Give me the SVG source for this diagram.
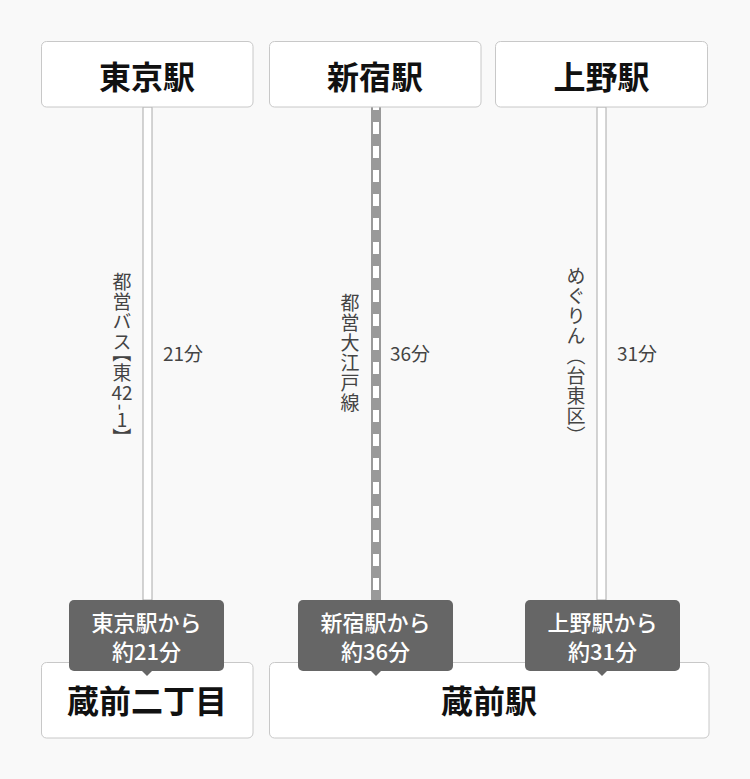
<svg xmlns="http://www.w3.org/2000/svg" width="750" height="779" viewBox="0 0 750 779">
<style>
.box{fill:#fff;stroke:#c8c8c8;stroke-width:1}
.name{font-family:"Noto Sans CJK JP","Noto Sans",sans-serif;font-size:32px;font-weight:700;fill:#111;text-anchor:middle}
.tip{fill:#666}
.tiptx{font-family:"Noto Sans CJK JP","Noto Sans",sans-serif;font-size:22px;font-weight:500;fill:#fff;text-anchor:middle}
.time{font-family:"Noto Sans CJK JP","Noto Sans",sans-serif;font-size:19px;fill:#444}
.vt{font-family:"Noto Sans CJK JP","Noto Sans",sans-serif;font-size:19px;fill:#444;writing-mode:vertical-rl;text-orientation:mixed;letter-spacing:1px}
.ht{font-family:"Noto Sans CJK JP","Noto Sans",sans-serif;font-size:19px;fill:#444;text-anchor:middle}
.dbl{fill:#fff;stroke:#aaa;stroke-width:1}
</style>
<rect width="750" height="779" fill="#f9f9f9"/>
<g id="connectors">
  <rect class="dbl" x="143" y="107" width="9" height="493"/>
  <rect x="371" y="107" width="10" height="493" fill="#999"/>
  <line x1="376" y1="107" x2="376" y2="600" stroke="#fff" stroke-width="6" stroke-dasharray="12 12" stroke-dashoffset="9"/>
  <rect class="dbl" x="597" y="107" width="9" height="493"/>
</g>
<g id="tokyo">
  <rect class="box" x="41.5" y="41.5" width="211.5" height="65.5" rx="5"/>
  <text class="name" x="147" y="89">東京駅</text>
</g>
<g id="shinjuku">
  <rect class="box" x="269.5" y="41.5" width="211.5" height="65.5" rx="5"/>
  <text class="name" x="375" y="89">新宿駅</text>
</g>
<g id="ueno">
  <rect class="box" x="495.5" y="41.5" width="212" height="65.5" rx="5"/>
  <text class="name" x="601.5" y="89">上野駅</text>
</g>
<g id="label-tokyo">
  <text class="vt" x="122" y="272">都営バス</text>
  <text class="ht" x="122" y="353" dominant-baseline="central" transform="rotate(90 122 353)">【</text>
  <text class="vt" x="122" y="363">東</text>
  <text class="ht" x="122" y="400">42</text>
  <text class="ht" x="122" y="407" dominant-baseline="central" transform="rotate(90 122 407)">-</text>
  <text class="ht" x="122" y="427">1</text>
  <text class="ht" x="122" y="437" dominant-baseline="central" transform="rotate(90 122 437)">】</text>
  <text class="time" x="163" y="361">21分</text>
</g>
<g id="label-shinjuku">
  <text class="vt" x="350" y="293">都営大江戸線</text>
  <text class="time" x="390" y="361">36分</text>
</g>
<g id="label-ueno">
  <text class="vt" x="576" y="266">めぐりん（台東区）</text>
  <text class="time" x="617" y="361">31分</text>
</g>
<g id="kuramae-nichome">
  <rect class="box" x="41.5" y="662.5" width="211.5" height="75.5" rx="5"/>
  <text class="name" x="147" y="713">蔵前二丁目</text>
</g>
<g id="kuramae">
  <rect class="box" x="269.5" y="662.5" width="439.5" height="75.5" rx="5"/>
  <text class="name" x="489" y="713">蔵前駅</text>
</g>
<g id="tip-tokyo">
  <rect class="tip" x="69" y="600" width="155" height="71" rx="5"/>
  <path class="tip" d="M141 670 L147 676 L153 670 Z"/>
  <text class="tiptx" x="146.5" y="631">東京駅から</text>
  <text class="tiptx" x="146.5" y="660">約21分</text>
</g>
<g id="tip-shinjuku">
  <rect class="tip" x="298" y="600" width="155" height="71" rx="5"/>
  <path class="tip" d="M370 670 L376 676 L382 670 Z"/>
  <text class="tiptx" x="375.5" y="631">新宿駅から</text>
  <text class="tiptx" x="375.5" y="660">約36分</text>
</g>
<g id="tip-ueno">
  <rect class="tip" x="525" y="600" width="155" height="71" rx="5"/>
  <path class="tip" d="M596 670 L602 676 L608 670 Z"/>
  <text class="tiptx" x="602.5" y="631">上野駅から</text>
  <text class="tiptx" x="602.5" y="660">約31分</text>
</g>
</svg>
